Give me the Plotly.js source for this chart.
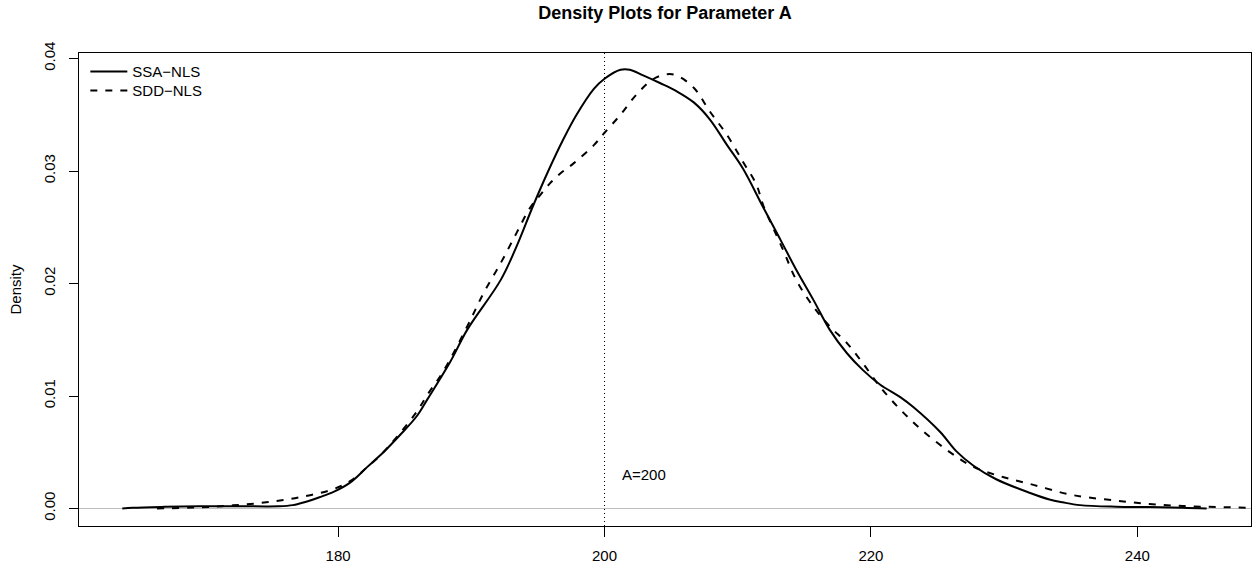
<!DOCTYPE html>
<html>
<head>
<meta charset="utf-8">
<script src="https://cdn.plot.ly/plotly-3.0.1.min.js"></script>
<style>
  html, body { margin: 0; padding: 0; background: #ffffff; }
  #chart { width: 1252px; height: 564px; }
</style>
</head>
<body>
<div id="chart"></div>
<script>
// Kernel density estimates of parameter A for the two fitting methods
const ssaX = [163.8, 164.6, 167.0, 169.6, 172.5, 175.5, 176.6, 177.6, 178.6, 179.7, 180.9,
              182.2, 183.4, 184.7, 185.9, 186.7, 188.4, 189.7, 192.2, 193.4, 194.6,
              195.7, 196.9, 197.9, 199.2, 200.0, 201.2, 201.9, 202.9, 204.2, 205.4,
              206.7, 207.9, 209.2, 210.4, 211.9, 213.2, 214.4, 215.7, 216.9, 218.2,
              219.4, 220.7, 222.2, 223.2, 225.2, 226.4, 227.7, 229.4, 231.9, 233.4,
              234.4, 235.7, 238.4, 240.9, 243.4, 245.2];
const ssaY = [0.0000, 0.00007, 0.00015, 0.0002, 0.0002, 0.0002, 0.0003, 0.0006, 0.0010, 0.0015, 0.0023,
              0.0037, 0.0050, 0.0066, 0.0082, 0.0097, 0.0130, 0.0159, 0.0203, 0.0233, 0.0268,
              0.0298, 0.0328, 0.0350, 0.0373, 0.0382, 0.0390, 0.0390, 0.0385, 0.0378, 0.0371,
              0.0361, 0.0346, 0.0323, 0.0302, 0.0268, 0.0239, 0.0212, 0.0185, 0.0159, 0.0138,
              0.0123, 0.0110, 0.0099, 0.0090, 0.0068, 0.0051, 0.0038, 0.0026, 0.0014, 0.0008,
              0.00055, 0.0003, 0.00016, 0.00013, 0.00007, 0.0000];

const sddX = [166.4, 169.6, 172.1, 174.6, 177.1, 179.6, 181.0, 182.2, 183.4, 185.9,
              186.7, 187.9, 189.7, 190.9, 192.2, 193.4, 194.4, 195.2, 195.9, 196.7,
              197.7, 199.2, 200.0, 201.2, 202.4, 203.7, 204.7, 205.4, 206.7, 207.9,
              209.2, 210.4, 211.4, 211.9, 213.4, 214.4, 215.7, 216.9, 218.2, 219.4,
              220.7, 222.2, 223.7, 225.7, 227.7, 229.9, 232.2, 234.7, 235.9, 238.4,
              240.9, 243.4, 245.9, 248.4, 251.0];
const sddY = [0.0000, 0.0001, 0.00028, 0.00055, 0.0010, 0.0017, 0.0025, 0.0037, 0.0050, 0.0086,
              0.0101, 0.0122, 0.0162, 0.0191, 0.0218, 0.0245, 0.0267, 0.0279, 0.0289, 0.0298,
              0.0307, 0.0323, 0.0334, 0.0350, 0.0368, 0.0382, 0.0386, 0.0385, 0.0374, 0.0353,
              0.0332, 0.0308, 0.0288, 0.0270, 0.0230, 0.0203, 0.0179, 0.0162, 0.0147, 0.0129,
              0.0108, 0.0088, 0.0071, 0.0052, 0.0037, 0.0028, 0.0021, 0.0013, 0.00105, 0.0007,
              0.0004, 0.00022, 0.00013, 0.00007, 0.00003];

const seriesNames = ['SSA\u2212NLS', 'SDD\u2212NLS'];
const trueValue = 200;
const trueLabel = 'A=200';
const trueLabelPos = [203, 0.003];
const xTicks = [180, 200, 220, 240];
const yTicks = [0.00, 0.01, 0.02, 0.03, 0.04];
const yTickText = ['0.00', '0.01', '0.02', '0.03', '0.04'];

const FONT = 'Liberation Sans, Arial, Helvetica, sans-serif';
const legendFont = { family: FONT, size: 15, color: '#000000' };
const plotHeight = 564 - 53 - 38;

const traces = [
  {
    x: ssaX, y: ssaY, name: seriesNames[0], type: 'scatter', mode: 'lines', legend: 'legend',
    line: { color: '#000000', width: 2, shape: 'spline', smoothing: 1 }
  },
  {
    x: sddX, y: sddY, name: seriesNames[1], type: 'scatter', mode: 'lines', legend: 'legend2',
    line: { color: '#000000', width: 2, dash: '7px,8px', shape: 'spline', smoothing: 1 }
  }
];

const legendBase = {
  x: 0.0054, xanchor: 'left', yanchor: 'top',
  bgcolor: 'rgba(0,0,0,0)', borderwidth: 0,
  font: legendFont, itemwidth: 37
};

const layout = {
  width: 1252,
  height: 564,
  paper_bgcolor: '#ffffff',
  plot_bgcolor: '#ffffff',
  margin: { l: 79, r: 1, t: 53, b: 38, pad: 0 },
  font: { family: FONT, size: 15, color: '#000000' },
  title: {
    text: '<b>Density Plots for Parameter A</b>',
    font: { family: FONT, size: 18, color: '#000000' },
    x: 0.5, xref: 'paper', xanchor: 'center',
    y: 1 - 13 / 564, yref: 'container', yanchor: 'middle'
  },
  showlegend: true,
  legend: Object.assign({}, legendBase, { y: 0.995 }),
  legend2: Object.assign({}, legendBase, { y: 0.995 - 19 / plotHeight }),
  xaxis: {
    range: [160.55, 248.53],
    tickmode: 'array', tickvals: xTicks, ticktext: xTicks.map(String),
    ticks: 'outside', ticklen: 10, tickwidth: 1, tickcolor: '#000000',
    showline: true, linecolor: '#000000', linewidth: 1, mirror: true,
    showgrid: false, zeroline: false,
    tickfont: { family: FONT, size: 15, color: '#000000' },
    ticklabelstandoff: 6
  },
  yaxis: {
    range: [-0.001556, 0.04049],
    tickmode: 'array', tickvals: yTicks, ticktext: yTickText,
    tickangle: -90,
    ticks: 'outside', ticklen: 9, tickwidth: 1, tickcolor: '#000000',
    showline: true, linecolor: '#000000', linewidth: 1, mirror: true,
    showgrid: false, zeroline: false,
    tickfont: { family: FONT, size: 15, color: '#000000' },
    ticklabelstandoff: 8,
    title: { text: 'Density', font: { family: FONT, size: 15, color: '#000000' }, standoff: 15 }
  },
  shapes: [
    {
      type: 'line', xref: 'paper', yref: 'y', x0: 0, x1: 1, y0: 0, y1: 0,
      line: { color: '#BEBEBE', width: 1 }, layer: 'below'
    },
    {
      type: 'line', xref: 'x', yref: 'paper', x0: trueValue, x1: trueValue, y0: 0, y1: 1,
      line: { color: '#000000', width: 1, dash: '1px,3px' }, layer: 'below'
    }
  ],
  annotations: [
    {
      x: trueLabelPos[0], y: trueLabelPos[1], xref: 'x', yref: 'y',
      text: trueLabel, showarrow: false, xanchor: 'center', yanchor: 'middle',
      font: { family: FONT, size: 15, color: '#000000' }
    }
  ]
};

Plotly.newPlot('chart', traces, layout, { staticPlot: true, displayModeBar: false });
</script>
</body>
</html>
